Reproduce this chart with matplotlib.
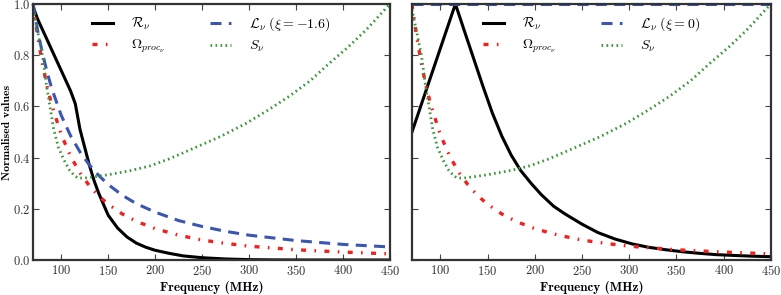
import matplotlib
matplotlib.use('Agg')
import matplotlib.pyplot as plt

plt.rcParams['font.family'] = 'serif'
plt.rcParams['font.serif'] = ['cmr10', 'DejaVu Serif']
plt.rcParams['mathtext.fontset'] = 'cm'
plt.rcParams['axes.formatter.use_mathtext'] = True
plt.rcParams['axes.unicode_minus'] = False

# values
freq_r_left = [70, 75, 80, 90, 100, 110, 115, 120, 125, 130, 135, 140, 150, 160, 170, 180,
               190, 200, 215, 230, 250, 275, 300, 325, 350, 400, 450]
r_left = [0.99, 0.94, 0.90, 0.82, 0.74, 0.66, 0.61, 0.51, 0.44, 0.37, 0.31, 0.26, 0.175, 0.125,
          0.09, 0.066, 0.05, 0.038, 0.026, 0.016, 0.009, 0.004, 0.0015, 0.0005, 0.0002, 0.0, 0.0]

freq = [70, 75, 80, 85, 90, 100, 110, 120, 130, 140, 150, 165, 180, 200, 225, 250, 275, 300,
        350, 400, 450]
omega = [1.0, 0.871, 0.766, 0.678, 0.605, 0.49, 0.405, 0.34, 0.29, 0.25, 0.218, 0.18, 0.151,
         0.1225, 0.097, 0.078, 0.065, 0.054, 0.04, 0.031, 0.024]
l_left = [1.0, 0.895, 0.808, 0.733, 0.669, 0.565, 0.485, 0.422, 0.371, 0.330, 0.295, 0.253,
          0.220, 0.187, 0.154, 0.131, 0.112, 0.097, 0.076, 0.061, 0.051]

freq_s = [70, 75, 80, 84, 88, 92, 97, 103, 109, 114, 118, 125, 135, 150, 175, 195, 215, 237,
          270, 297, 320, 343, 365, 386, 405, 425, 450]
s_nu = [0.98, 0.89, 0.80, 0.69, 0.60, 0.51, 0.44, 0.39, 0.35, 0.33, 0.32, 0.32, 0.325, 0.333,
        0.35, 0.368, 0.395, 0.43, 0.483, 0.534, 0.585, 0.64, 0.70, 0.77, 0.83, 0.90, 1.0]

freq_r_right = [70, 116, 125, 135, 145, 155, 165, 175, 185, 196, 207, 220, 232, 250, 267, 285,
                303, 320, 339, 357, 375, 392, 410, 430, 450]
r_right = [0.5, 1.0, 0.9, 0.79, 0.68, 0.575, 0.485, 0.41, 0.35, 0.30, 0.255, 0.21, 0.18, 0.14,
           0.107, 0.082, 0.063, 0.05, 0.04, 0.032, 0.026, 0.021, 0.018, 0.015, 0.013]

freq_l_right = [70, 450]
l_right = [1.0, 1.0]

xticks = [100, 150, 200, 250, 300, 350, 400, 450]
yticks = [0.0, 0.2, 0.4, 0.6, 0.8, 1.0]

c_blue = '#3a56b0'
c_red = '#f02020'
c_green = '#3a963a'

fig = plt.figure(figsize=(7.81, 2.95), dpi=100)
ax1 = fig.add_axes([0.0423, 0.1186, 0.457, 0.868])
ax2 = fig.add_axes([0.5275, 0.1186, 0.4595, 0.868])


def draw(ax, fr, r, fl, l, l_label):
    ax.plot(fr, r, color='k', lw=2.2, label=r'$\mathcal{R}_\nu$')
    ax.plot(freq, omega, color=c_red, lw=2.4, linestyle=(0, (1.5, 2.5, 0.5, 2.5)),
            label=r'$\Omega_{proc_\nu}$')
    ax.plot(fl, l, color=c_blue, lw=2.2, linestyle=(0, (3.6, 2.4)), label=l_label,
            clip_on=False)
    ax.plot(freq_s, s_nu, color=c_green, lw=2.0, linestyle=(0, (0.6, 1.2)), label=r'$S_\nu$')
    ax.set_xlim(70, 450)
    ax.set_ylim(0, 1.0)
    ax.set_xticks(xticks)
    ax.set_yticks(yticks)
    ax.tick_params(direction='in', top=True, right=True, labelsize=9, length=4, pad=3,
                   colors='#444444', labelcolor='#333333')
    ax.tick_params(axis='y', pad=2)
    for sp in ax.spines.values():
        sp.set_linewidth(1.6)
        sp.set_color('#333333')
    ax.set_xlabel('Frequency (MHz)', fontsize=9.5, family='cmb10', labelpad=2)
    ax.legend(loc='upper center', ncol=2, frameon=False, fontsize=10, handlelength=1.5,
              handletextpad=1.3, columnspacing=3.2, bbox_to_anchor=(0.5, 1.0),
              borderaxespad=0.4, labelspacing=0.45)


draw(ax1, freq_r_left, r_left, freq, l_left, r'$\mathcal{L}_\nu\ (\xi = -1.6)$')
draw(ax2, freq_r_right, r_right, freq_l_right, l_right, r'$\mathcal{L}_\nu\ (\xi = 0)$')
ax1.set_ylabel('Normalised values', fontsize=8.5, family='cmb10')
ax1.yaxis.set_label_coords(-0.059, 0.5)
ax2.set_yticklabels([])

fig.savefig('out.png', dpi=100)
